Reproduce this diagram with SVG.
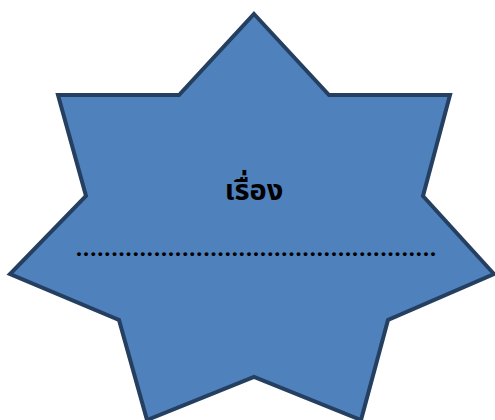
<svg xmlns="http://www.w3.org/2000/svg" width="495" height="420" viewBox="0 0 495 420">
<style>
.star{fill:#4F81BD;stroke:#243F60;stroke-width:4;stroke-linejoin:miter;stroke-miterlimit:10}
.title{font-family:"Noto Sans","Noto Sans Thai","DejaVu Sans",sans-serif;font-size:29px;font-weight:bold;fill:#000;text-anchor:middle}
.dots{font-family:"Liberation Serif",serif;font-size:24px;font-weight:bold;fill:#000}
</style>
<g id="star">
<polygon class="star" points="254,14 329,95 450,95 423,196 494,274 388,320 361,420 254,377 147,420 119,320 10,274 86,196 58,95 179,95"/>
<text class="title" x="254" y="200">เรื่อง</text>
<text class="dots" x="76" y="256" textLength="360" lengthAdjust="spacing">...................................................</text>
</g>
</svg>
